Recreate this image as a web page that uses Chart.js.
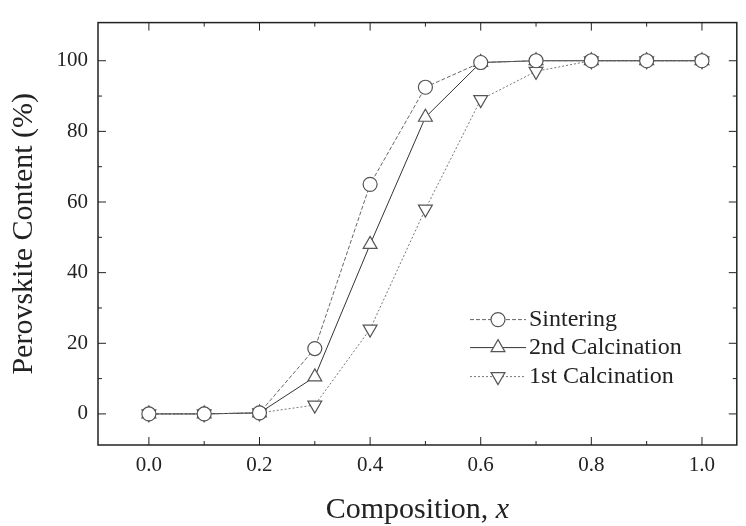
<!DOCTYPE html>
<html>
<head>
<meta charset="utf-8">
<script src="https://cdn.jsdelivr.net/npm/chart.js@4"></script>
<style>
  html, body { margin: 0; padding: 0; background: #fff; }
  #wrap { width: 746px; height: 526px; }
</style>
</head>
<body>
<div id="wrap"><canvas id="chart" width="746" height="526"></canvas></div>
<script>
const composition = [0.0, 0.1, 0.2, 0.3, 0.4, 0.5, 0.6, 0.7, 0.8, 0.9, 1.0];
const sintering = [0, 0, 0.3, 18.5, 65, 92.5, 99.5, 100, 100, 100, 100];
const calcination2 = [0, 0, 0.3, 10.5, 48, 84, 99.5, 100, 100, 100, 100];
const calcination1 = [0, 0, 0.3, 2.5, 24, 58, 89, 97, 100, 100, 100];

const xMajorTicks = [0.0, 0.2, 0.4, 0.6, 0.8, 1.0];
const xMinorTicks = [0.1, 0.3, 0.5, 0.7, 0.9];
const yMajorTicks = [0, 20, 40, 60, 80, 100];
const yMinorTicks = [10, 30, 50, 70, 90];

const serif = "'Liberation Serif', 'DejaVu Serif', serif";

const toPoints = (ys) => composition.map((x, i) => ({ x: x, y: ys[i] }));

const buildSet = (label, ys, style, color, dash) => ({
  label: label,
  data: toPoints(ys),
  borderColor: color,
  borderWidth: 1,
  borderDash: dash,
  backgroundColor: "#fff",
  pointStyle: style.shape,
  rotation: style.rotation,
  pointRadius: style.radius,
  pointBorderColor: "#555",
  pointBackgroundColor: "#fff",
  pointBorderWidth: 1.2,
  fill: false,
  tension: 0,
});

const datasets = [
  buildSet("Sintering", sintering, { shape: "circle", rotation: 0, radius: 7 }, "#666", [4, 2]),
  buildSet("2nd Calcination", calcination2, { shape: "triangle", rotation: 0, radius: 8 }, "#333", []),
  buildSet("1st Calcination", calcination1, { shape: "triangle", rotation: 180, radius: 8 }, "#777", [2, 2]),
];

// frame, inward ticks on all four sides, legend and x title
const framePlugin = {
  id: "frame",
  afterDraw(chart) {
    const { ctx, chartArea: a, scales } = chart;
    const xs = scales.x, ys = scales.y;
    ctx.save();
    ctx.strokeStyle = "#222";
    ctx.lineWidth = 1.5;
    ctx.strokeRect(a.left, a.top, a.right - a.left, a.bottom - a.top);
    ctx.lineWidth = 1;
    const tick = (x1, y1, x2, y2) => {
      ctx.beginPath(); ctx.moveTo(x1, y1); ctx.lineTo(x2, y2); ctx.stroke();
    };
    xMajorTicks.forEach((v) => {
      const px = xs.getPixelForValue(v);
      tick(px, a.bottom, px, a.bottom - 8);
      tick(px, a.top, px, a.top + 8);
    });
    xMinorTicks.forEach((v) => {
      const px = xs.getPixelForValue(v);
      tick(px, a.bottom, px, a.bottom - 4);
      tick(px, a.top, px, a.top + 4);
    });
    yMajorTicks.forEach((v) => {
      const py = ys.getPixelForValue(v);
      tick(a.left, py, a.left + 8, py);
      tick(a.right, py, a.right - 8, py);
    });
    yMinorTicks.forEach((v) => {
      const py = ys.getPixelForValue(v);
      tick(a.left, py, a.left + 4, py);
      tick(a.right, py, a.right - 4, py);
    });

    // legend inside the plot
    const lx0 = a.left + 372, lx1 = a.left + 428, tx = a.left + 431;
    const rows = [a.top + 297, a.top + 325, a.top + 354];
    chart.data.datasets.forEach((ds, i) => {
      const y = rows[i];
      ctx.strokeStyle = ds.borderColor;
      ctx.setLineDash(ds.borderDash);
      tick(lx0, y, lx1, y);
      ctx.setLineDash([]);
      ctx.strokeStyle = ds.pointBorderColor;
      ctx.fillStyle = ds.pointBackgroundColor;
      ctx.lineWidth = ds.pointBorderWidth;
      Chart.helpers.drawPoint(ctx, {
        pointStyle: ds.pointStyle,
        radius: ds.pointRadius,
        rotation: ds.rotation,
        borderWidth: ds.pointBorderWidth,
      }, (lx0 + lx1) / 2, y);
      ctx.lineWidth = 1;
      ctx.fillStyle = "#222";
      ctx.font = "24px " + serif;
      ctx.textBaseline = "middle";
      ctx.textAlign = "left";
      ctx.fillText(ds.label, tx, y);
    });

    // x axis title with italic x
    ctx.fillStyle = "#222";
    ctx.textBaseline = "alphabetic";
    ctx.textAlign = "left";
    const main = "Composition, ";
    ctx.font = "italic 30px " + serif;
    const wx = ctx.measureText("x").width;
    ctx.font = "30px " + serif;
    const wm = ctx.measureText(main).width;
    const cx = (a.left + a.right) / 2;
    const ty = 518;
    ctx.fillText(main, cx - (wm + wx) / 2, ty);
    ctx.font = "italic 30px " + serif;
    ctx.fillText("x", cx - (wm + wx) / 2 + wm, ty);
    ctx.restore();
  },
};

new Chart(document.getElementById("chart"), {
  type: "line",
  data: { datasets: datasets },
  options: {
    responsive: false,
    animation: false,
    layout: { padding: { left: 0, top: 0, right: 8, bottom: 0 } },
    plugins: {
      legend: { display: false },
      tooltip: { enabled: false },
    },
    scales: {
      x: {
        type: "linear",
        min: -0.092,
        max: 1.063,
        afterBuildTicks: (scale) => {
          scale.ticks = xMajorTicks.map((v) => ({ value: v }));
        },
        afterFit: (scale) => { scale.height = 81; },
        grid: { display: false, drawTicks: false },
        border: { display: false },
        ticks: {
          padding: 8,
          color: "#222",
          font: { family: serif, size: 21 },
          callback: (v) => v.toFixed(1),
        },
      },
      y: {
        type: "linear",
        min: -8.8,
        max: 110.8,
        afterBuildTicks: (scale) => {
          scale.ticks = yMajorTicks.map((v) => ({ value: v }));
        },
        afterFit: (scale) => { scale.width = 98; },
        grid: { display: false, drawTicks: false },
        border: { display: false },
        ticks: {
          padding: 10,
          color: "#222",
          font: { family: serif, size: 21 },
        },
        title: {
          display: true,
          text: "Perovskite Content (%)",
          color: "#222",
          font: { family: serif, size: 30 },
          padding: { top: 6, bottom: 0 },
        },
      },
    },
  },
  plugins: [framePlugin],
});
</script>
</body>
</html>
